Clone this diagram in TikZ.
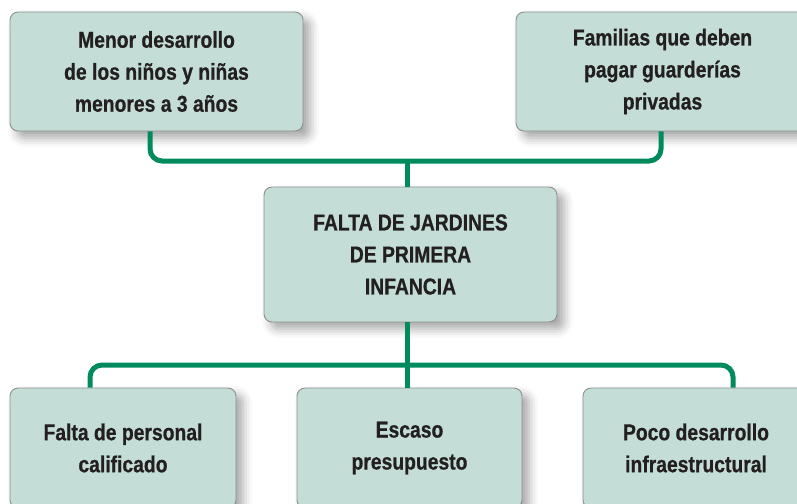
\documentclass[tikz,border=0pt]{standalone}
\usepackage{fontspec}
\newfontfamily\condfont{Liberation Sans}[FakeStretch=0.84, BoldFeatures={FakeBold=0.7}]
\usetikzlibrary{shadows.blur}
\definecolor{boxfill}{HTML}{C4DED7}
\definecolor{boxline}{HTML}{8E8E8E}
\definecolor{linkgreen}{HTML}{008A5E}
\definecolor{txt}{HTML}{231F20}
\tikzset{
  box/.style={rectangle, rounded corners=8pt, draw=boxline, line width=0.9pt,
    fill=boxfill, align=center, text=txt, inner sep=0pt,
    font=\condfont\bfseries\fontsize{23}{32}\selectfont,
    blur shadow={shadow xshift=7pt, shadow yshift=-7pt, shadow blur radius=9pt, shadow opacity=35}},
  conn/.style={draw=linkgreen, line width=5pt, rounded corners=12pt}
}
\begin{document}
\begin{tikzpicture}[x=1pt,y=-1pt]
\useasboundingbox (0,0) rectangle (797,503);
\clip (0,0) rectangle (797,503);
\node[box, minimum width=293pt, minimum height=119pt] (tl) at (156.5,71.5)
  {Menor desarrollo\\de los niños y niñas\\menores a 3 años};
\node[box, minimum width=293pt, minimum height=119pt] (tr) at (662.5,71.5)
  {Familias que deben\\pagar guarderías\\privadas};
\node[box, minimum width=293pt, minimum height=135pt] (c) at (410.5,254.5)
  {FALTA DE JARDINES\\DE PRIMERA\\INFANCIA};
\node[box, minimum width=226pt, minimum height=120pt] (bl) at (123,448)
  {Falta de personal\\calificado};
\node[box, minimum width=225pt, minimum height=120pt] (bm) at (409.5,448)
  {Escaso\\presupuesto};
\node[box, minimum width=226pt, minimum height=120pt] (br) at (696,448)
  {Poco desarrollo\\infraestructural};
\coordinate (j1) at (407,161);
\coordinate (j2) at (407,365);
\draw[conn] ([xshift=-6.5pt]tl.south) |- (j1) -| ([xshift=-1.5pt]tr.south);
\draw[conn] (j1) -- (j1 |- c.north);
\draw[conn] ([xshift=-33pt]bl.north) |- (j2) -| ([xshift=37pt]br.north);
\draw[conn] (j2 |- c.south) -- (j2 |- bm.north);
\end{tikzpicture}
\end{document}
